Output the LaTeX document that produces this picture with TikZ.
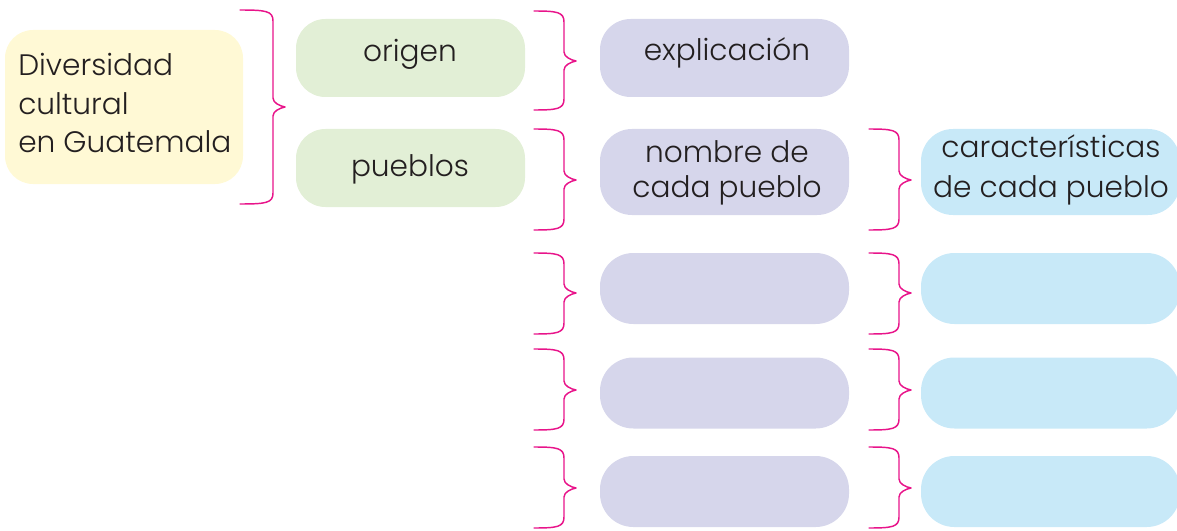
\documentclass[tikz,border=0pt]{standalone}
\usepackage{fontspec}
\setmainfont{Poppins}[UprightFont=* Light]
\definecolor{cYel}{HTML}{FFF9D5}
\definecolor{cGrn}{HTML}{E2EFD6}
\definecolor{cPur}{HTML}{D6D6EB}
\definecolor{cBlu}{HTML}{C8E9F8}
\definecolor{cMag}{HTML}{E8148A}
\definecolor{cTxt}{HTML}{231F20}
\newcommand\curlyb[6]{% x0 x1 xt ytop ym ybot
  \draw[brc] (#1,#4) .. controls ({#2-7},#4) and (#2,{#4+1}) .. (#2,{#4+11})
    -- (#2,{#5-9}) .. controls (#2,{#5-4}) and ({#3-5},{#5-1}) .. (#3,#5)
    .. controls ({#3-5},{#5+1}) and (#2,{#5+4}) .. (#2,{#5+9})
    -- (#2,{#6-11}) .. controls (#2,{#6-1}) and ({#2-7},#6) .. (#1,#6);}
\begin{document}
\begin{tikzpicture}[x=0.75pt,y=-0.75pt,
  box/.style={draw=none,rectangle,inner sep=0pt},
  txt/.style={inner sep=0pt,text=cTxt,font=\fontsize{22.2}{27}\selectfont},
  brc/.style={draw=cMag,line width=1.1pt,line join=round,line cap=round}]
\useasboundingbox (0,0) rectangle (1177,531);
% boxes
\node[box,fill=cYel,rounded corners=21pt,minimum width=178.5pt,minimum height=115.5pt] (yel) at (124,107) {};
\node[box,fill=cGrn,rounded corners=22pt,minimum width=171.75pt,minimum height=58.5pt] (orig) at (410.5,58) {};
\node[box,fill=cGrn,rounded corners=22pt,minimum width=171.75pt,minimum height=58.5pt] (pueb) at (410.5,168) {};
\node[box,fill=cPur,rounded corners=23pt,minimum width=186.75pt,minimum height=58.5pt] (expl) at (724.5,58) {};
\node[box,fill=cPur,rounded corners=24pt,minimum width=186.75pt,minimum height=64.5pt] (nomb) at (724.5,172) {};
\node[box,fill=cBlu,rounded corners=24pt,minimum width=194.25pt,minimum height=64.5pt] (cara) at (1050.5,172) {};
\foreach \r/\y in {3/288.5,4/393,5/491.5}{
  \node[box,fill=cPur,rounded corners=25pt,minimum width=186.75pt,minimum height=53.25pt] (p\r) at (724.5,\y) {};
  \node[box,fill=cBlu,rounded corners=25pt,minimum width=194.25pt,minimum height=53.25pt] (b\r) at (1050.5,\y) {};
}
% texts
\node[txt,anchor=base west] (t1) at (18,76) {Diversidad};
\node[txt,anchor=base west] (t2) at (18,115) {cultural};
\node[txt,anchor=base west] (t3) at (18,153) {en Guatemala};
\node[txt,anchor=base] (t4) at (410,62) {origen};
\node[txt,anchor=base] (t5) at (410,176) {pueblos};
\node[txt,anchor=base] (t6) at (727,61) {explicación};
\node[txt,anchor=base] (t7) at (727,162) {nombre de};
\node[txt,anchor=base] (t8) at (727,197) {cada pueblo};
\node[txt,anchor=base] (t9) at (1051,158) {características};
\node[txt,anchor=base] (t10) at (1051,197) {de cada pueblo};
% braces
\curlyb{240}{273}{285}{10}{107}{204}
\curlyb{534}{564}{576}{11}{61}{110}
\curlyb{534}{564}{576}{129}{180}{230}
\curlyb{869}{899}{911}{129}{180}{230}
\curlyb{534}{564}{576}{253}{293}{334}
\curlyb{869}{899}{911}{253}{293}{334}
\curlyb{534}{564}{576}{349}{390}{430}
\curlyb{869}{899}{911}{349}{390}{430}
\curlyb{534}{564}{576}{447}{488}{528}
\curlyb{869}{899}{911}{447}{488}{528}
\end{tikzpicture}
\end{document}
